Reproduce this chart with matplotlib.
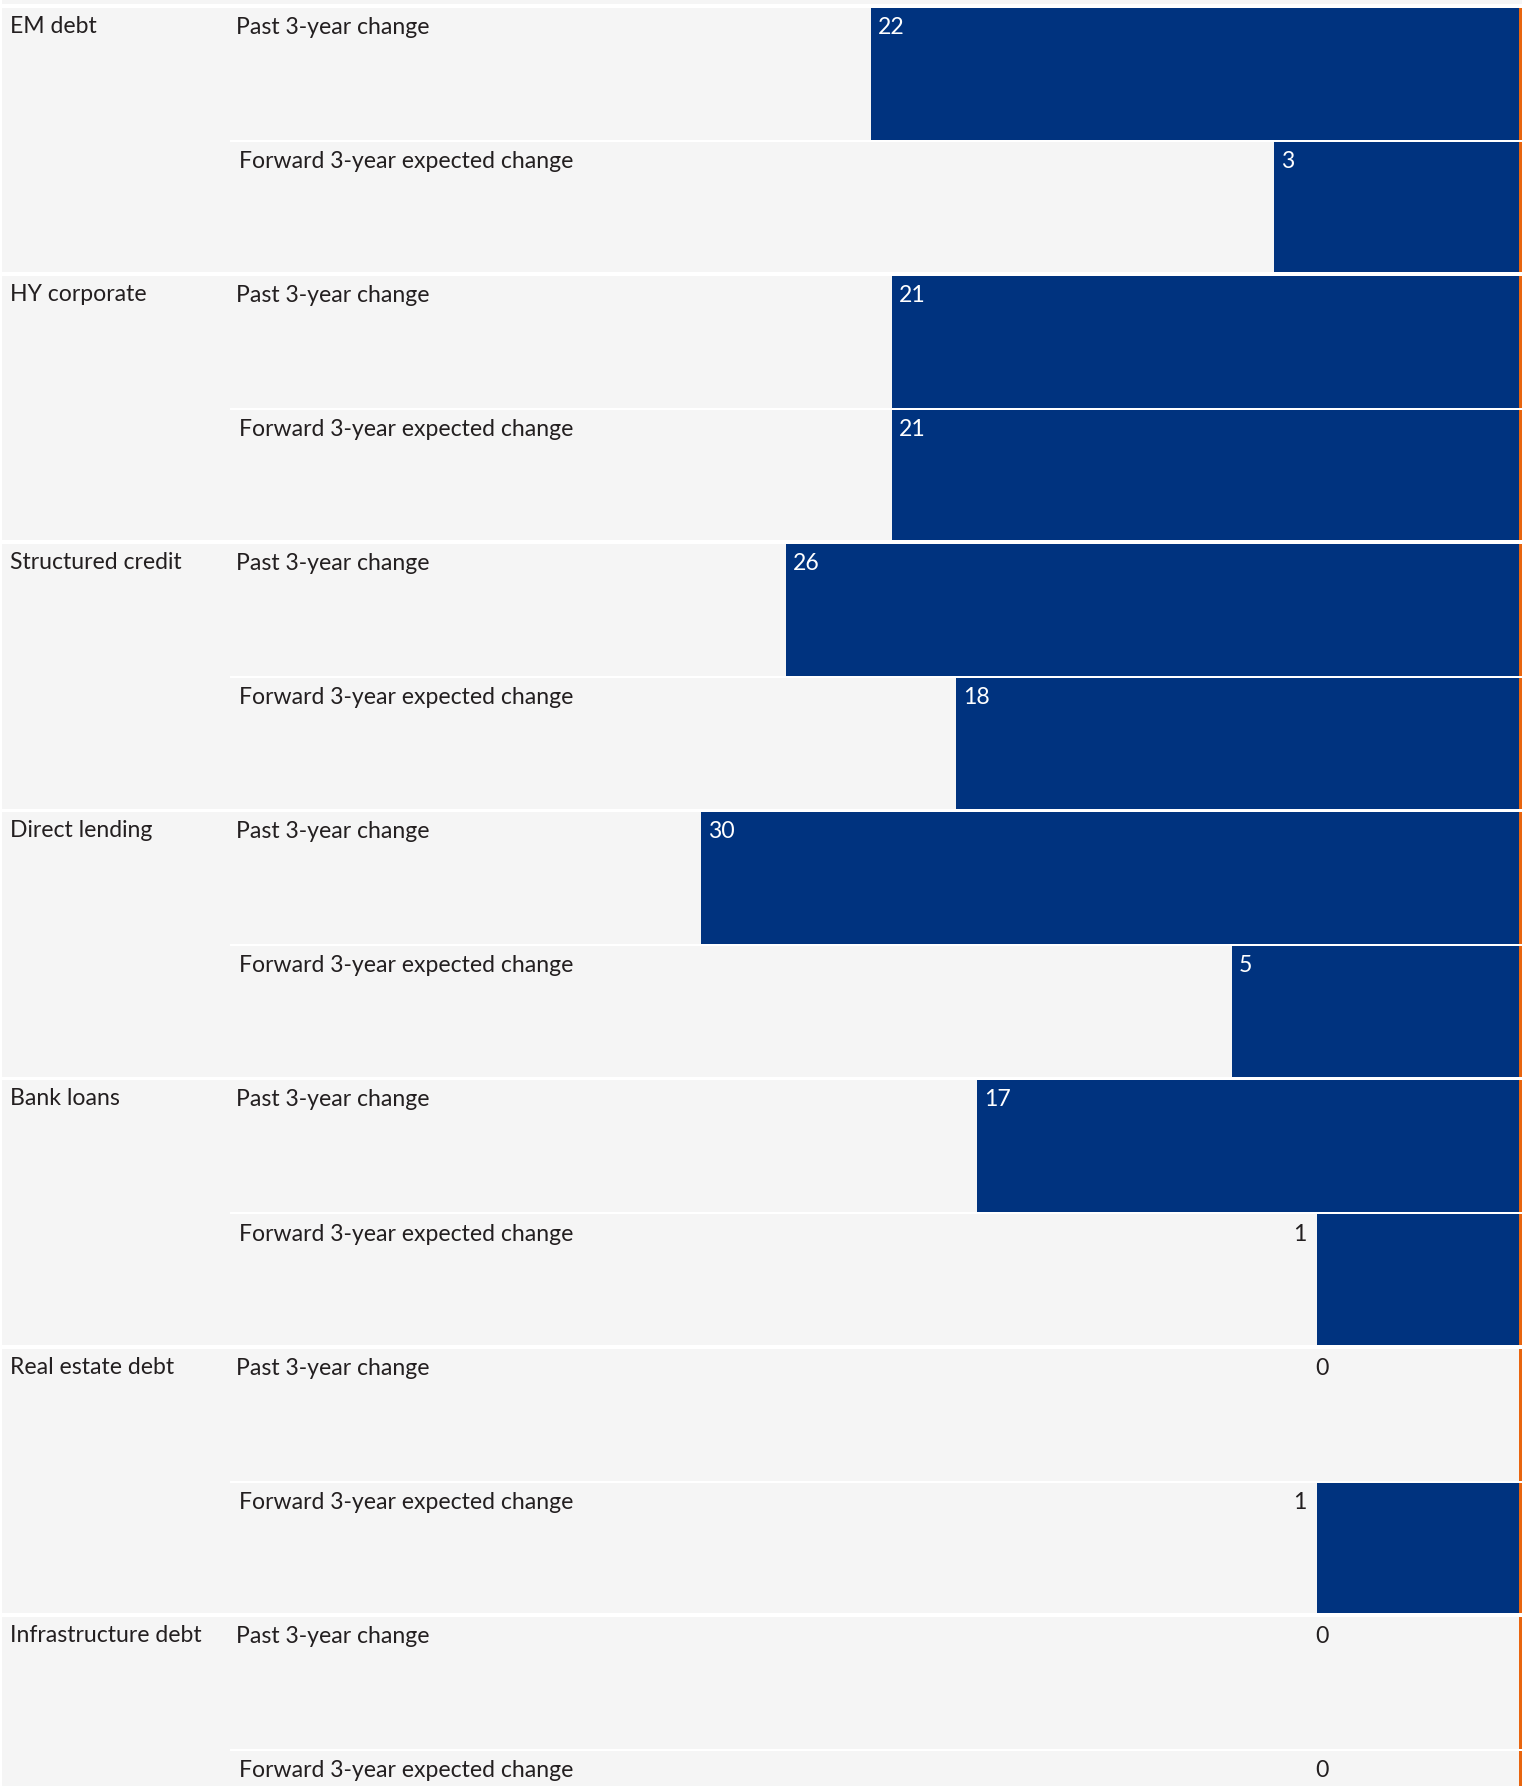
import matplotlib
matplotlib.use("Agg")
import matplotlib.pyplot as plt
from matplotlib.patches import Rectangle

# ---------------- data ----------------
categories = ["EM debt", "HY corporate", "Structured credit", "Direct lending",
              "Bank loans", "Real estate debt", "Infrastructure debt"]
series_names = ["Past 3-year change", "Forward 3-year expected change"]
past_change = [22, 21, 26, 30, 17, 0, 0]
forward_change = [3, 21, 18, 5, 1, 1, 0]

# ---------------- style ----------------
BAR_COLOR = "#00337f"
REF_COLOR = "#e8650f"
BAND_COLOR = "#f5f5f5"
TEXT_COLOR = "#231f20"
FONT = ["Lato", "DejaVu Sans"]
FS = 16.6

W, H, DPI = 1522, 1786, 100
ROW_PX = 134.1          # height of one sub-row in pixels
TOP_PX = 7.5            # first row top offset
PX_PER_UNIT = 21.24     # value scale
BAR_LEFT_PX = 230       # left edge of sub-row / bar area
REF_PX = 1519           # pixel position of bar base (orange reference line)
LABEL_BASE_PX = 26.2    # baseline offset of row texts from row top

plt.rcParams["font.family"] = FONT

fig = plt.figure(figsize=(W / DPI, H / DPI), dpi=DPI)
fig.patch.set_facecolor("white")

px = 1.0 / ROW_PX
y_top = -TOP_PX * px
y_bot = (H - TOP_PX) * px

# background axes (pixel x, row-unit y)
bg = fig.add_axes([0, 0, 1, 1])
bg.set_xlim(0, W)
bg.set_ylim(y_bot, y_top)
bg.axis("off")

n_cat = len(categories)
cat_gap = 3.5 * px
sub_gap = 2.0 * px
for c in range(-1, n_cat):
    y0 = 2 * c
    bg.add_patch(Rectangle((2, y0), W - 2, 2 - cat_gap, facecolor=BAND_COLOR,
                           edgecolor="none", zorder=1))
    bg.add_patch(Rectangle((BAR_LEFT_PX, y0 + 1 - sub_gap), W - BAR_LEFT_PX, sub_gap,
                           facecolor="white", edgecolor="none", zorder=2))

# labels
sub_x = [236, 239]
for c, name in enumerate(categories):
    bg.text(10, 2 * c + 25.2 * px, name, fontsize=FS, color=TEXT_COLOR,
            ha="left", va="baseline", zorder=5)
    for s, sname in enumerate(series_names):
        bg.text(sub_x[s], 2 * c + s + LABEL_BASE_PX * px, sname, fontsize=FS,
                color=TEXT_COLOR, ha="left", va="baseline", zorder=5)

# bar axes
ax = fig.add_axes([BAR_LEFT_PX / W, 0, (W - BAR_LEFT_PX) / W, 1])
ax.set_facecolor("none")
xbase = -(REF_PX - 1338.2) / PX_PER_UNIT            # value at bar base
x_left = xbase + (REF_PX - BAR_LEFT_PX) / PX_PER_UNIT
x_right = xbase - (W - REF_PX) / PX_PER_UNIT
ax.set_xlim(x_left, x_right)
ax.set_ylim(y_bot, y_top)
ax.axis("off")

for s, values in enumerate([past_change, forward_change]):
    ys = [2 * c + s + 0.5 for c in range(n_cat)]
    for y, v in zip(ys, values):
        if v > 0:
            ax.barh(y, v - xbase, left=xbase, height=1.0, color=BAR_COLOR,
                    edgecolor="none", zorder=2)
        if v > 1:
            ax.annotate(str(v), (v, y - 0.5 + LABEL_BASE_PX * px), xytext=(7, 0),
                        textcoords="offset pixels", ha="left", va="baseline",
                        fontsize=FS, color="white", zorder=6)
        else:
            ax.annotate(str(v), (v, y - 0.5 + LABEL_BASE_PX * px), xytext=(-10, 0),
                        textcoords="offset pixels", ha="right", va="baseline",
                        fontsize=FS, color=TEXT_COLOR, zorder=6)

# orange reference line at bar base
ax.add_patch(Rectangle((xbase, 0), x_right - xbase, 2 * n_cat, facecolor=REF_COLOR,
                       edgecolor="none", zorder=3))

# white separators over bars
for c in range(n_cat):
    ax.axhspan(2 * c + 2 - cat_gap, 2 * c + 2, color="white", zorder=4, lw=0)
    ax.axhspan(2 * c + 1 - sub_gap, 2 * c + 1, color="white", zorder=4, lw=0)

fig.savefig("out.png", dpi=DPI, facecolor="white")
